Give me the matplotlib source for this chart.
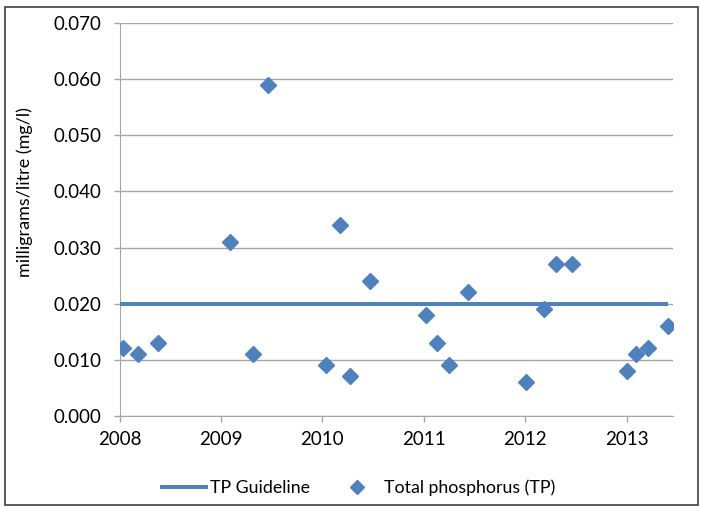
import numpy as np
import matplotlib.pyplot as plt
from matplotlib.patches import Rectangle
from matplotlib.ticker import FormatStrFormatter

plt.rcParams['font.family'] = ['Lato', 'DejaVu Sans']

# Sample dates (decimal years) and total phosphorus concentrations (mg/l)
sample_dates = [2008.03, 2008.18, 2008.38, 2009.09, 2009.32, 2009.46,
                2010.04, 2010.17, 2010.27, 2010.47, 2011.02, 2011.13,
                2011.25, 2011.44, 2012.01, 2012.19, 2012.30, 2012.46,
                2013.00, 2013.09, 2013.21, 2013.41]
tp_values = [0.012, 0.011, 0.013, 0.031, 0.011, 0.059,
             0.009, 0.034, 0.007, 0.024, 0.018, 0.013,
             0.009, 0.022, 0.006, 0.019, 0.027, 0.027,
             0.008, 0.011, 0.012, 0.016]
guideline = 0.020
year_ticks = [2008, 2009, 2010, 2011, 2012, 2013]

blue = '#4F81BD'

fig = plt.figure(figsize=(7.01, 5.08), dpi=100)
ax = fig.add_axes([0.1705, 0.1817, 0.79, 0.7724])

# Guideline line and measured values
ax.plot([2008.0, sample_dates[-1]], [guideline, guideline], color=blue,
        linewidth=2.9, solid_capstyle='butt', label='TP Guideline', zorder=3)
ax.plot(sample_dates, tp_values, linestyle='none', marker='D', markersize=7.8,
        color=blue, label='Total phosphorus (TP)', zorder=4)

ax.set_xlim(2008, 2013.46)
ax.set_ylim(0, 0.07)
ax.set_xticks(year_ticks)
ax.set_xticklabels([str(y) for y in year_ticks])
ax.set_yticks(np.arange(0, 0.0701, 0.01))
ax.yaxis.set_major_formatter(FormatStrFormatter('%.3f'))
ax.grid(axis='y', color='#A6A6A6', linewidth=1.0)
ax.set_axisbelow(True)

for side in ['top', 'right']:
    ax.spines[side].set_visible(False)
for side in ['left', 'bottom']:
    ax.spines[side].set_color('#A6A6A6')
ax.tick_params(axis='both', colors='#A6A6A6', labelcolor='black',
               labelsize=13.5, length=4.3, width=1)
ax.tick_params(axis='x', pad=7)
ax.tick_params(axis='y', pad=9)
ax.set_ylabel('milligrams/litre (mg/l)', fontsize=13)
ax.yaxis.set_label_coords(-0.156, 0.57)

fig.legend(loc='center', bbox_to_anchor=(0.51, 0.039), ncol=2, frameon=False,
           fontsize=12.8, handlelength=2.7, columnspacing=1.3,
           handletextpad=0.15, markerscale=0.9)

# Outer chart border
fig.patches.append(Rectangle((5 / 701, 3 / 508), 693 / 701, 498 / 508,
                             transform=fig.transFigure, fill=False,
                             edgecolor='#404040', linewidth=1.2))

fig.savefig('out.png', dpi=100)
